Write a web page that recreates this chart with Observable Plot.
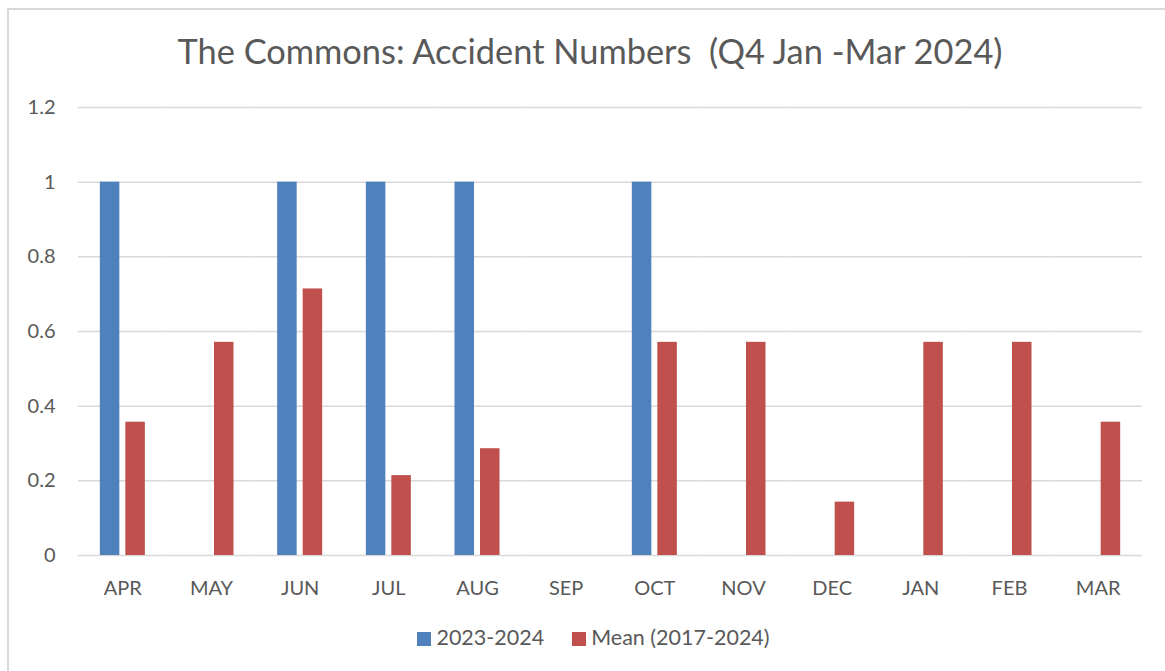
<!DOCTYPE html>
<html>
<head>
<meta charset="utf-8">
<script src="https://cdn.jsdelivr.net/npm/d3@7"></script>
<script src="https://cdn.jsdelivr.net/npm/@observablehq/plot@0.6"></script>
<style>
  html, body { margin: 0; padding: 0; background: #fff; }
  body { width: 1165px; height: 671px; overflow: hidden; position: relative; font-family: Lato, "Open Sans", sans-serif; }
  #frame { position: absolute; left: 7px; top: 8px; right: -10px; bottom: -10px; border-top: 2px solid #D9D9D9; border-left: 2px solid #D9D9D9; }
  #title { position: absolute; left: 0; width: 1180px; top: 30px; text-align: center; font-size: 34.4px; color: #595959; white-space: pre; }
  #chart { position: absolute; left: 0; top: 90px; }
  #legend { position: absolute; left: 0; width: 1187px; top: 624px; text-align: center; font-size: 21.5px; color: #595959; }
  #legend span.item { display: inline-block; margin: 0 14px; }
  #legend span.sw { display: inline-block; width: 14px; height: 14px; margin-right: 5px; vertical-align: -1px; }
</style>
</head>
<body>
<div id="frame"></div>
<div id="title">The Commons: Accident Numbers  (Q4 Jan -Mar 2024)</div>
<div id="chart"></div>
<div id="legend"></div>
<script>
const months = ["APR","MAY","JUN","JUL","AUG","SEP","OCT","NOV","DEC","JAN","FEB","MAR"];
const seriesNames = ["2023-2024", "Mean (2017-2024)"];
const current = [1, 0, 1, 1, 1, 0, 1, 0, 0, 0, 0, 0];
const mean = [0.357, 0.571, 0.714, 0.214, 0.286, 0, 0.571, 0.571, 0.143, 0.571, 0.571, 0.357];
const yTicks = [0, 0.2, 0.4, 0.6, 0.8, 1, 1.2];
const colors = ["#4F81BD", "#C0504D"];

const data = [];
months.forEach((m, i) => {
  data.push({month: m, series: seriesNames[0], value: current[i]});
  data.push({month: m, series: seriesNames[1], value: mean[i]});
});

const chart = Plot.plot({
  width: 1165,
  height: 520,
  marginLeft: 78,
  marginRight: 23,
  marginTop: 17,
  marginBottom: 55,
  style: {fontFamily: "Lato, 'Open Sans', sans-serif", fontSize: "20px", color: "#595959", background: "transparent"},
  fx: {domain: months, padding: 0, round: false, label: null, axis: "bottom", tickSize: 0, tickPadding: 25},
  x: {domain: seriesNames, paddingInner: 0.235, paddingOuter: 0.856, round: false, axis: null},
  y: {domain: [0, 1.2], ticks: yTicks, tickFormat: d => String(+d.toFixed(1)), label: null, tickSize: 0, tickPadding: 23},
  color: {domain: seriesNames, range: colors},
  marks: [
    Plot.gridY(yTicks, {stroke: "#D9D9D9", strokeOpacity: 1, strokeWidth: 1.5}),
    Plot.barY(data, {fx: "month", x: "series", y: "value", fill: "series", insetLeft: 0, insetRight: 0})
  ]
});
document.getElementById("chart").appendChild(chart);

const legend = document.getElementById("legend");
seriesNames.forEach((s, i) => {
  const item = document.createElement("span");
  item.className = "item";
  const sw = document.createElement("span");
  sw.className = "sw";
  sw.style.background = colors[i];
  item.appendChild(sw);
  item.appendChild(document.createTextNode(s));
  legend.appendChild(item);
});
</script>
</body>
</html>
